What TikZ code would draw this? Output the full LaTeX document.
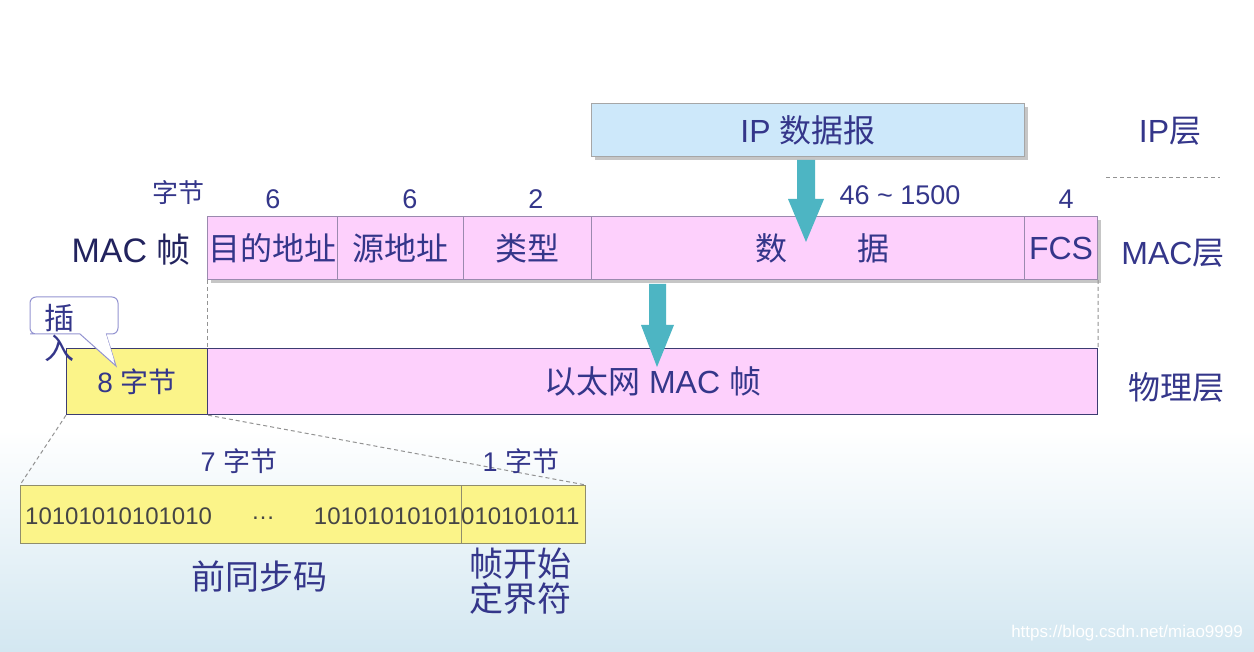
\documentclass[tikz,border=0pt]{standalone}
\usepackage{fontspec}
\setmainfont{Liberation Sans}
\newfontfamily\cjk{Noto Sans CJK SC}
\usetikzlibrary{calc}
\definecolor{navy}{HTML}{34368A}
\definecolor{darknavy}{HTML}{22235E}
\definecolor{pinkf}{HTML}{FDD0FC}
\definecolor{bluef}{HTML}{CDE8FA}
\definecolor{yelf}{HTML}{FBF489}
\definecolor{arrowc}{HTML}{4DB5C3}
\definecolor{cellb}{HTML}{9A8AAE}
\definecolor{physb}{HTML}{3C3C72}
\definecolor{skyb}{HTML}{D3E7F1}
\definecolor{bitc}{HTML}{454545}
\begin{document}
\begin{tikzpicture}[x=1pt,y=-1pt,
  every node/.style={inner sep=0pt, text=navy},
  cell/.style={draw=cellb, line width=1pt, fill=pinkf, minimum height=63pt, anchor=north west},
  phys/.style={draw=physb, line width=1.2pt, minimum height=66pt, anchor=north west},
  lbl/.style={font=\fontsize{27}{30}\selectfont},
  big/.style={font=\fontsize{32}{36}\selectfont},
  guide/.style={draw=gray!85, dash pattern=on 4pt off 3pt, line width=1pt},
  blockarrow/.style={fill=arrowc, draw=none}]
\useasboundingbox (0,0) rectangle (1254,652);
\fill[white] (0,0) rectangle (1254,430);
\shade[top color=white, bottom color=skyb] (0,430) rectangle (1254,652);

% IP datagram
\fill[gray!45] (595,107) rectangle (1028,160);
\node[draw=gray!70, line width=1pt, fill=bluef, minimum width=433pt, minimum height=53pt, anchor=north west] (ip) at (591,103) {};
\node[big] (iptext) at (ip.center) {IP {\cjk 数据报}};
\node[big] (iplayer) at (1170,131) {IP{\cjk 层}};
\draw[guide] (1106,178) -- (1220,178);

% MAC frame row
\fill[gray!45] (211,220) rectangle (1101,283);
\node[cell, minimum width=130pt] (dst) at (207,216) {};
\node[cell, minimum width=126pt] (src) at (337,216) {};
\node[cell, minimum width=128pt] (typ) at (463,216) {};
\node[cell, minimum width=433pt] (dat) at (591,216) {};
\node[cell, minimum width=73pt] (fcs) at (1024,216) {};
\node[big] at (dst.center) {\cjk 目的地址};
\node[big] at (src.center) {\cjk 源地址};
\node[big] at (typ.center) {\cjk 类型};
\node[big] (shu) at (771,248) {\cjk 数};
\node[big] (ju) at (873,248) {\cjk 据};
\node[big] at (fcs.center) {FCS};

\node[lbl, font=\cjk\fontsize{26}{30}\selectfont] (bytes) at (178,193) {字节};
\node[lbl] (n1) at (273,199) {6};
\node[lbl] (n2) at (410,199) {6};
\node[lbl] (n3) at (536,199) {2};
\node[lbl] (n4) at (900,195) {46 \textasciitilde{} 1500};
\node[lbl] (n5) at (1066,199) {4};

\node[font=\fontsize{34}{38}\selectfont, text=darknavy] (macf) at (131,250) {MAC {\cjk 帧}};
\node[big] (maclayer) at (1173,253) {MAC{\cjk 层}};

% arrow IP -> data
\fill[blockarrow] (797,160) -- (815,160) -- (815,199) -- (824,199) -- (806,242) -- (788,199) -- (797,199) -- cycle;

% physical row
\node[phys, fill=yelf, minimum width=141pt] (pre) at (66,348) {};
\node[phys, fill=pinkf, minimum width=890pt] (eth) at (207,348) {};
\node[font=\fontsize{28}{32}\selectfont] at (pre.center) {8 {\cjk 字节}};
\node[big] (ethtext) at (eth.center) {{\cjk 以太网} MAC {\cjk 帧}};
\node[big] (physlayer) at (1176,387) {\cjk 物理层};

% guides MAC -> phys
\draw[guide] (dst.south west) -- (eth.north west);
\draw[guide] (fcs.south east) -- (eth.north east);

% arrow MAC -> phys
\fill[blockarrow] (649,284) -- (666,284) -- (666,325) -- (674,325) -- (657,367) -- (641,325) -- (649,325) -- cycle;

% callout
\draw[draw=gray!60!blue!60, line width=1pt, fill=white, rounded corners=6pt]
  (80,334) -- (36,334) [rounded corners=6pt] -- (30,334) -- (30,297) -- (118,297) -- (118,334) [sharp corners] -- (106,334) -- (116,366) -- (80,334);
\fill[white] (81,331) -- (105,331) -- (114,360) -- cycle;
\node[font=\cjk\fontsize{30}{34}\selectfont] (cha) at (60,318) {插};
\node[font=\cjk\fontsize{30}{34}\selectfont] (ru) at (59,348) {入};

% preamble detail box
\node[draw=gray!75!olive, line width=1pt, fill=yelf, minimum width=441pt, minimum height=58pt, anchor=north west] (pb) at (20,485) {};
\node[draw=gray!75!olive, line width=1pt, fill=yelf, minimum width=124pt, minimum height=58pt, anchor=north west] (sfd) at (461,485) {};
\draw[guide] (pre.south west) -- (pb.north west);
\draw[guide] (pre.south east) -- (sfd.north east);

\node[font=\fontsize{24}{28}\selectfont, text=bitc, anchor=west] (b1) at (25,516) {10101010101010};
\node[font=\fontsize{24}{28}\selectfont, text=bitc] (dots) at (263,518) {\dots};
\node[font=\fontsize{24}{28}\selectfont, text=bitc, anchor=east] (b2) at (461,516) {10101010101};
\node[font=\fontsize{24}{28}\selectfont, text=bitc, anchor=west] (b3) at (461,516) {010101011};

\node[font=\fontsize{27}{30}\selectfont] (s7) at (239,461) {7 {\cjk 字节}};
\node[font=\fontsize{27}{30}\selectfont] (s1) at (521,461) {1 {\cjk 字节}};
\node[font=\cjk\fontsize{34}{38}\selectfont] (pre7) at (259,577) {前同步码};
\node[font=\cjk\fontsize{34}{35}\selectfont, align=center] (sfdl) at (520,581) {帧开始\\定界符};

\node[font=\fontsize{17}{20}\selectfont, text=white, anchor=east] (wm) at (1243,633) {https://blog.csdn.net/miao9999};
\end{tikzpicture}
\end{document}
